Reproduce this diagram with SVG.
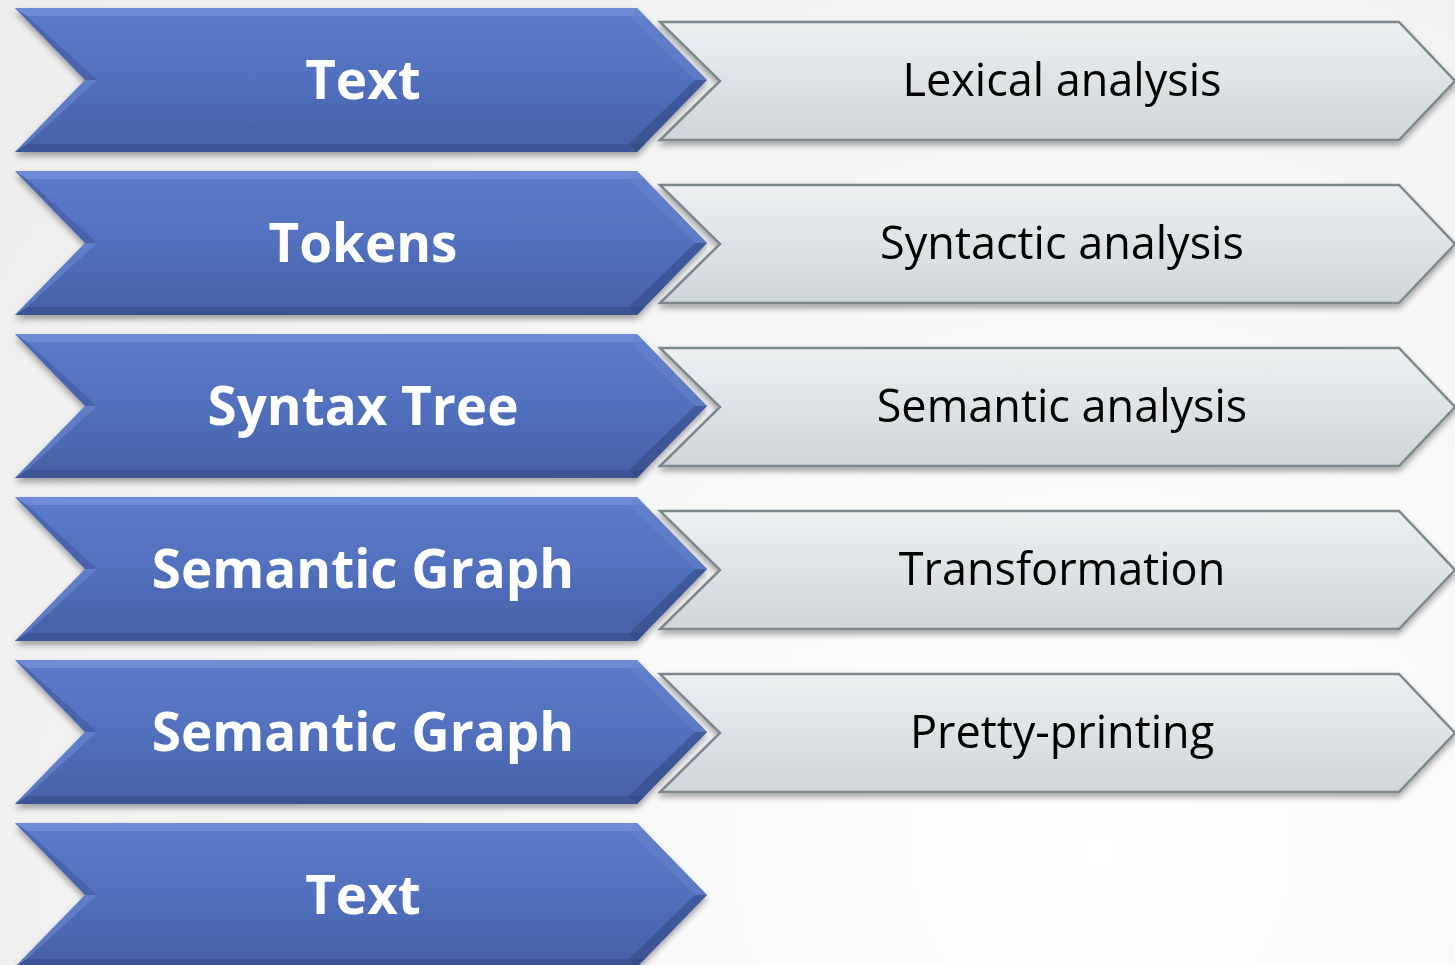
<svg xmlns="http://www.w3.org/2000/svg" width="1455" height="965" viewBox="0 0 1455 965">
<defs>
<radialGradient id="bg" cx="1100" cy="850" r="1400" gradientUnits="userSpaceOnUse">
<stop offset="0" stop-color="#ffffff"/><stop offset="1" stop-color="#ececec"/>
</radialGradient>
<linearGradient id="blue" x1="0" y1="0" x2="0" y2="1">
<stop offset="0" stop-color="#5b7bca"/><stop offset="0.5" stop-color="#5170bd"/><stop offset="1" stop-color="#4660a6"/>
</linearGradient>
<linearGradient id="gray" x1="0" y1="0" x2="0" y2="1">
<stop offset="0" stop-color="#edf0f1"/><stop offset="1" stop-color="#cfd5d8"/>
</linearGradient>
<filter id="sh" x="-5%" y="-10%" width="110%" height="130%">
<feGaussianBlur in="SourceAlpha" stdDeviation="3"/>
<feOffset dx="0" dy="4" result="b"/>
<feComponentTransfer><feFuncA type="linear" slope="0.35"/></feComponentTransfer>
<feMerge><feMergeNode/><feMergeNode in="SourceGraphic"/></feMerge>
</filter>
<g id="bshape">
<polygon points="15,0 637,0 707,72 637,144 15,144 85,72" fill="url(#blue)"/>
<polygon points="15,0 637,0 645,8 27,8" fill="#7d9be0" opacity="0.55"/>
<polygon points="15,144 637,144 645,136 27,136" fill="#2f4680" opacity="0.45"/>
<polygon points="15,0 27,8 97,72 85,72" fill="#3b5395" opacity="0.45"/>
<polygon points="85,72 97,72 27,136 15,144" fill="#6f8ed6" opacity="0.5"/>
<polygon points="637,0 707,72 695,72 629,8" fill="#6783cc" opacity="0.5"/>
<polygon points="707,72 637,144 629,136 695,72" fill="#2f4680" opacity="0.5"/>
</g>
<g id="gshape">
<polygon points="660,14 1399,14 1455,73 1399,132 660,132 720,73" fill="url(#gray)" stroke="#7d888c" stroke-width="2.5" stroke-linejoin="miter"/>
</g>
<style>
.bt{font-family:"Open Sans","Liberation Sans",sans-serif;font-weight:bold;font-size:53px;fill:#ffffff;text-anchor:middle}
.gt{font-family:"Open Sans","Liberation Sans",sans-serif;font-size:45px;fill:#000000;text-anchor:middle}
</style>
</defs>
<rect width="1455" height="965" fill="url(#bg)"/>
<g id="g1" transform="translate(0,8)" filter="url(#sh)"><use href="#gshape"/><text class="gt" x="1062" y="88">Lexical analysis</text></g>
<g id="g2" transform="translate(0,171)" filter="url(#sh)"><use href="#gshape"/><text class="gt" x="1062" y="88">Syntactic analysis</text></g>
<g id="g3" transform="translate(0,334)" filter="url(#sh)"><use href="#gshape"/><text class="gt" x="1062" y="88">Semantic analysis</text></g>
<g id="g4" transform="translate(0,497)" filter="url(#sh)"><use href="#gshape"/><text class="gt" x="1062" y="88">Transformation</text></g>
<g id="g5" transform="translate(0,660)" filter="url(#sh)"><use href="#gshape"/><text class="gt" x="1062" y="88">Pretty-printing</text></g>
<g id="b1" transform="translate(0,8)" filter="url(#sh)"><use href="#bshape"/><text class="bt" x="363" y="91">Text</text></g>
<g id="b2" transform="translate(0,171)" filter="url(#sh)"><use href="#bshape"/><text class="bt" x="363" y="91">Tokens</text></g>
<g id="b3" transform="translate(0,334)" filter="url(#sh)"><use href="#bshape"/><text class="bt" x="363" y="91">Syntax Tree</text></g>
<g id="b4" transform="translate(0,497)" filter="url(#sh)"><use href="#bshape"/><text class="bt" x="363" y="91">Semantic Graph</text></g>
<g id="b5" transform="translate(0,660)" filter="url(#sh)"><use href="#bshape"/><text class="bt" x="363" y="91">Semantic Graph</text></g>
<g id="b6" transform="translate(0,823)" filter="url(#sh)"><use href="#bshape"/><text class="bt" x="363" y="91">Text</text></g>
</svg>
